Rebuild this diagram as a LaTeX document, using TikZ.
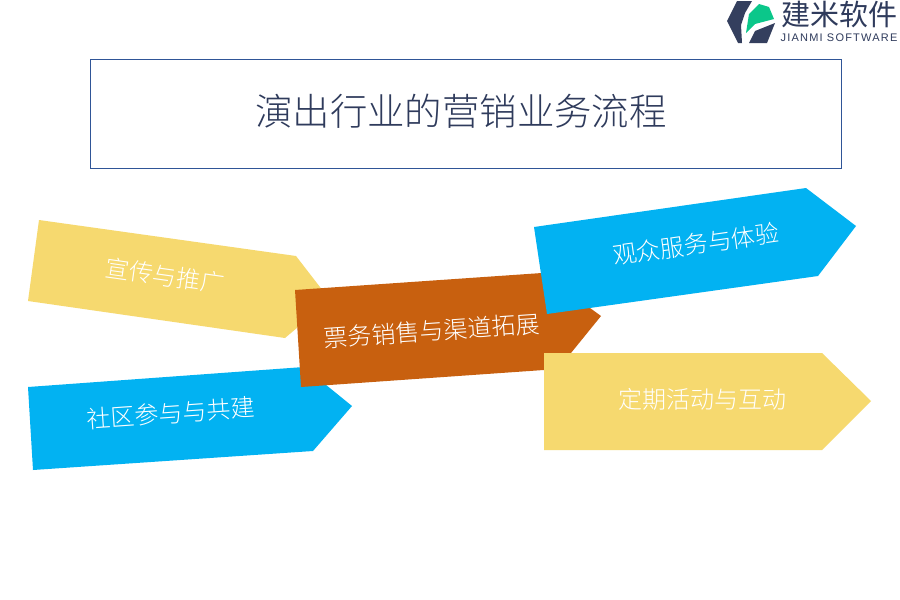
\documentclass[tikz,border=0pt]{standalone}
\usepackage{fontspec}
\setmainfont{Noto Sans CJK SC}[BoldFont={Noto Sans CJK SC}]
\newfontfamily\cjkl{Noto Sans CJK SC Light}
\newfontfamily\latinf[LetterSpace=11]{Liberation Sans}
\definecolor{yel}{HTML}{F6D96F}
\definecolor{sky}{HTML}{02B2F2}
\definecolor{brn}{HTML}{C8600F}
\definecolor{navy}{HTML}{2F3B5C}
\definecolor{frame}{HTML}{2F5597}
\definecolor{logod}{HTML}{343F5E}
\definecolor{logog}{HTML}{0BC78A}
\tikzset{
  lab/.style={text=white,inner sep=0pt,font=\cjkl\fontsize{24}{24}\selectfont},
}
\begin{document}
\begin{tikzpicture}[x=1pt,y=-1pt]
\useasboundingbox (0,0) rectangle (900,600);
\fill[white] (0,0) rectangle (900,600);
\node[draw=frame,line width=0.8pt,minimum width=751pt,minimum height=109pt,inner sep=0pt,anchor=north west] (title) at (89.6,58.6) {};
\node[text=navy,inner sep=0pt,font=\cjkl\fontsize{37.4}{37.4}\selectfont] (tt) at (461,111) {演出行业的营销业务流程};
\fill[yel] (39,220)--(296,256)--(330,300)--(285,338)--(28,301)--cycle;
\fill[sky] (28,387)--(304,367)--(352,406)--(313,451)--(33,470)--cycle;
\fill[brn] (295,290)--(542,273)--(601,316)--(558,369)--(301,387)--cycle;
\fill[sky] (534,227)--(806,188)--(856,226)--(818,276)--(547,314)--cycle;
\fill[yel] (544,353)--(822,353)--(871,401)--(822,450)--(544,450)--cycle;
\node[lab,rotate=-8] (a) at (165,276) {宣传与推广};
\node[lab,rotate=4] (b) at (171,413) {社区参与与共建};
\node[lab,rotate=4] (c) at (432,331) {票务销售与渠道拓展};
\node[lab,rotate=8] (d) at (696,244) {观众服务与体验};
\node[lab] (e) at (702,399) {定期活动与互动};
\fill[logod] (737,1)--(752,1)--(745,13)--(741,25)--(742,43)--(738,43)--(727,21)--cycle;
\fill[logog] (746,33)--(749,14)--(759,4)--(769,7)--(774,19)--(755,24)--cycle;
\fill[logod] (749,43)--(755,31)--(775,23)--(767,43)--cycle;
\node[text=navy,inner sep=0pt,font=\fontsize{29}{29}\selectfont] (lg) at (839.5,14) {建米软件};
\node[text=navy,inner sep=0pt,font=\latinf\fontsize{11}{11}\selectfont] (lt) at (839,38) {JIANMI SOFTWARE};
\end{tikzpicture}
\end{document}
